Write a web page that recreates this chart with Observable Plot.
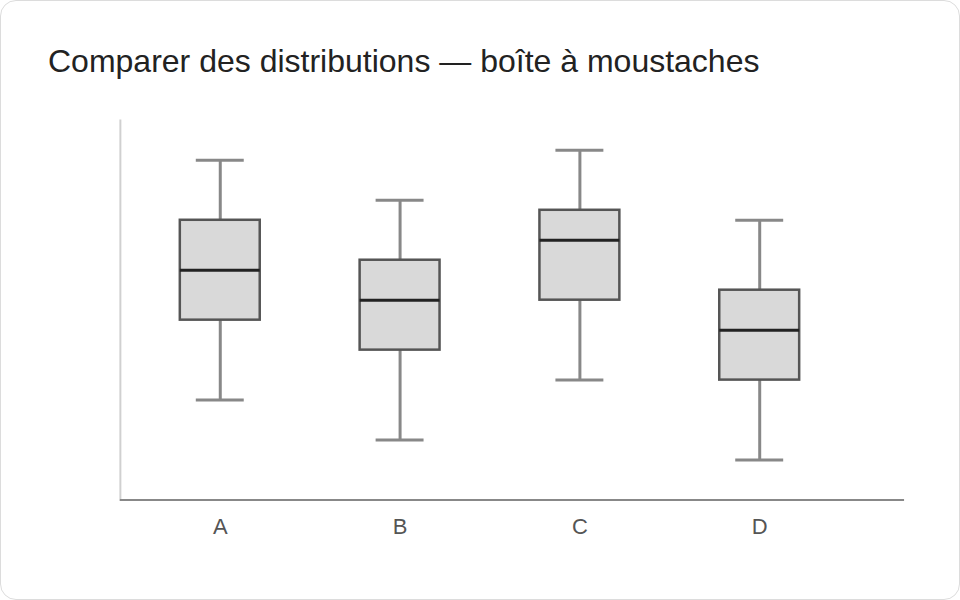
<!DOCTYPE html>
<html>
<head>
<meta charset="utf-8">
<script src="https://cdn.jsdelivr.net/npm/d3@7"></script>
<script src="https://cdn.jsdelivr.net/npm/@observablehq/plot@0.6"></script>
<style>
  html, body { margin: 0; padding: 0; background: #fff; }
  #card {
    position: relative; width: 960px; height: 600px; box-sizing: border-box;
    border: 1px solid #dcdcdc; border-radius: 16px; background: #fff; overflow: hidden;
    font-family: "Liberation Sans", Arial, Helvetica, sans-serif;
  }
  #title {
    position: absolute; left: 47px; top: 44px; margin: 0;
    font-size: 32px; line-height: 32px; font-weight: normal; color: #222;
    white-space: nowrap;
  }
  #chart { position: absolute; left: -1px; top: -1px; }
</style>
</head>
<body>
<div id="card">
  <h1 id="title">Comparer des distributions — boîte à moustaches</h1>
  <div id="chart"></div>
</div>
<script>
const categories = ["A", "B", "C", "D"];
const low    = [10, 6, 12, 4];
const q1     = [18, 15, 20, 12];
const median = [23, 20, 26, 17];
const q3     = [28, 24, 29, 21];
const high   = [34, 30, 35, 28];

const data = categories.map((c, i) => ({
  cat: c, low: low[i], q1: q1[i], median: median[i], q3: q3[i], high: high[i]
}));

const chart = Plot.plot({
  width: 960,
  height: 600,
  marginTop: 120,
  marginBottom: 100,
  marginLeft: 120,
  marginRight: 55,
  style: { fontFamily: '"Liberation Sans", Arial, sans-serif', background: "transparent", color: "#555" },
  x: { type: "band", domain: categories, range: [130, 850], paddingInner: 5/9, paddingOuter: 5/18, align: 0.5, axis: null },
  y: { domain: [0, 38], axis: null },
  marks: [
    Plot.frame({ anchor: "left", stroke: "#d0d0d0", strokeWidth: 2 }),
    Plot.ruleY([0], { stroke: "#888", strokeWidth: 2 }),
    Plot.ruleX(data, { x: "cat", y1: "low", y2: "q1", stroke: "#888", strokeWidth: 3 }),
    Plot.ruleX(data, { x: "cat", y1: "q3", y2: "high", stroke: "#888", strokeWidth: 3 }),
    Plot.tickY(data, { x: "cat", y: "low", stroke: "#888", strokeWidth: 3, insetLeft: 16, insetRight: 16 }),
    Plot.tickY(data, { x: "cat", y: "high", stroke: "#888", strokeWidth: 3, insetLeft: 16, insetRight: 16 }),
    Plot.barY(data, { x: "cat", y1: "q1", y2: "q3", fill: "#d9d9d9", stroke: "#555", strokeWidth: 2.5 }),
    Plot.tickY(data, { x: "cat", y: "median", stroke: "#222", strokeWidth: 3 }),
    Plot.text(categories, { x: d => d, frameAnchor: "bottom", dy: 34, fontSize: 22, fill: "#555" })
  ]
});
document.getElementById("chart").appendChild(chart);
</script>
</body>
</html>
